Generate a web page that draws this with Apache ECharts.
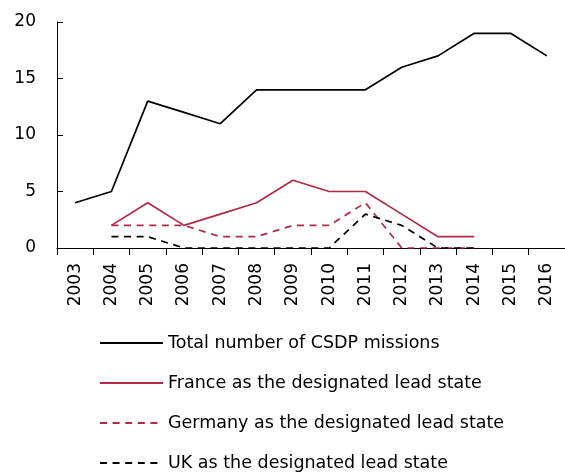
<!DOCTYPE html>
<html><head><meta charset="utf-8">
<script src="https://cdn.jsdelivr.net/npm/echarts@6/dist/echarts.min.js"></script>
<style>html,body{margin:0;padding:0;background:#fff}#c{width:565px;height:476px}</style>
</head><body><div id="c"></div>
<script>
const years = ['2003','2004','2005','2006','2007','2008','2009','2010','2011','2012','2013','2014','2015','2016'];
const total = [4,5,13,12,11,14,14,14,14,16,17,19,19,17];
const france = [null,2,4,2,3,4,6,5,5,3,1,1,null,null];
const germany = [null,2,2,2,1,1,2,2,4,0,0,0,null,null];
const uk = [null,1,1,0,0,0,0,0,3,2,0,0,null,null];
const yTicks = [0,5,10,15,20];

const FONT = '"DejaVu Sans"';
const RED = '#b02a47';
const chart = echarts.init(document.getElementById('c'), null, {renderer:'canvas'});
function mk(name, data, color, type){
  return {name, type:'line', data, symbol:'none', showSymbol:false, connectNulls:false,
    lineStyle:{color, width:1.7, type}, itemStyle:{color}, animation:false};
}
chart.setOption({
  animation:false,
  grid:{left:57, top:22, width:514, height:226, containLabel:false},
  xAxis:{type:'category', data:years, boundaryGap:true,
    axisLine:{lineStyle:{color:'#000', width:1}},
    axisTick:{show:true, length:7, lineStyle:{color:'#000'}, alignWithLabel:false},
    axisLabel:{rotate:90, margin:15, color:'#000', fontSize:17, fontFamily:FONT, interval:0}},
  yAxis:{type:'value', min:0, max:20, interval:5,
    axisLine:{show:true, lineStyle:{color:'#000', width:1}},
    axisTick:{show:true, inside:true, length:6, lineStyle:{color:'#000'}},
    splitLine:{show:false},
    axisLabel:{margin:21, color:'#000', fontSize:17, fontFamily:FONT,
      formatter:v=> yTicks.includes(v) ? String(v) : ''}},
  legend:{orient:'vertical', left:99, top:333, padding:0, itemWidth:63, itemHeight:20, itemGap:20,
    itemStyle:{opacity:0},
    textStyle:{fontSize:17.5, fontFamily:FONT, color:'#000', lineHeight:20},
    data:['Total number of CSDP missions','France as the designated lead state','Germany as the designated lead state','UK as the designated lead state']},
  series:[
    mk('Total number of CSDP missions', total, '#000', 'solid'),
    mk('France as the designated lead state', france, RED, 'solid'),
    mk('Germany as the designated lead state', germany, RED, [7,5.6]),
    mk('UK as the designated lead state', uk, '#000', [7,5.6])
  ]
});
</script></body></html>
